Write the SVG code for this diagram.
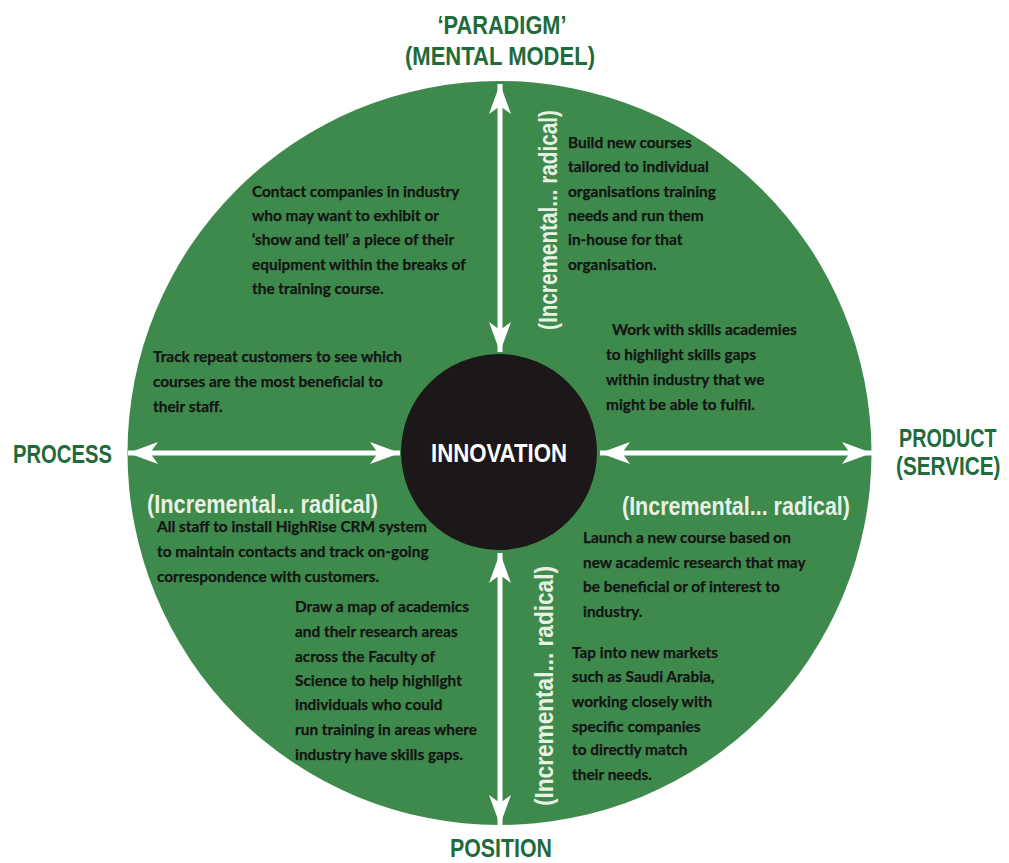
<svg xmlns="http://www.w3.org/2000/svg" width="1009" height="863" viewBox="0 0 1009 863">
<defs>
<style>
.title{font-family:"Liberation Sans",Arial,sans-serif;font-weight:bold;fill:#1f6b3b;font-size:25px}
.body{font-family:Lato,"Open Sans",sans-serif;font-weight:bold;fill:#141414;font-size:15.4px;stroke:#141414;stroke-width:0.25}
.scale{font-family:"Liberation Sans",Arial,sans-serif;font-weight:bold;fill:#e8f1e4;font-size:25px}
.hub{font-family:"Liberation Sans",Arial,sans-serif;font-weight:bold;fill:#ffffff;font-size:25px}
.arrow{stroke:#ffffff;stroke-width:5;fill:none}
</style>
<marker id="head" markerUnits="userSpaceOnUse" markerWidth="32" markerHeight="24" refX="30" refY="11" orient="auto-start-reverse" viewBox="0 0 32 22">
<path d="M0,0 L30,11 L0,22 L8,11 Z" fill="#ffffff"/>
</marker>
</defs>
<rect width="1009" height="863" fill="#ffffff"/>
<g id="wheel">
<circle cx="499.5" cy="453" r="372" fill="#3e8a4c"/>
</g>
<g id="connectors">
<line class="arrow" x1="500" y1="84" x2="500" y2="352" marker-start="url(#head)" marker-end="url(#head)"/>
<line class="arrow" x1="128" y1="453" x2="400" y2="453" marker-start="url(#head)" marker-end="url(#head)"/>
<line class="arrow" x1="600" y1="453" x2="872" y2="453" marker-start="url(#head)" marker-end="url(#head)"/>
<line class="arrow" x1="500" y1="553" x2="500" y2="825" marker-start="url(#head)" marker-end="url(#head)"/>
</g>
<g id="innovation">
<circle cx="499" cy="452" r="98" fill="#1c1819"/>
<text class="hub" x="499" y="462" text-anchor="middle" textLength="136" lengthAdjust="spacingAndGlyphs">INNOVATION</text>
</g>
<g id="paradigm">
<text class="title" x="502" y="34" text-anchor="middle" textLength="129" lengthAdjust="spacingAndGlyphs">‘PARADIGM’</text>
<text class="title" x="500" y="65" text-anchor="middle" textLength="190" lengthAdjust="spacingAndGlyphs">(MENTAL MODEL)</text>
</g>
<g id="process">
<text class="title" x="13" y="463" textLength="99" lengthAdjust="spacingAndGlyphs">PROCESS</text>
</g>
<g id="product">
<text class="title" transform="translate(899,447) scale(0.79,1)">PRODUCT</text>
<text class="title" transform="translate(896,475) scale(0.83,1)">(SERVICE)</text>
</g>
<g id="position">
<text class="title" x="450" y="857" textLength="102" lengthAdjust="spacingAndGlyphs">POSITION</text>
</g>
<g id="scale-top">
<text class="scale" transform="translate(557,330) rotate(-90)" textLength="220" lengthAdjust="spacingAndGlyphs">(Incremental... radical)</text>
</g>
<g id="scale-left">
<text class="scale" x="147" y="513" textLength="231" lengthAdjust="spacingAndGlyphs">(Incremental... radical)</text>
</g>
<g id="scale-right">
<text class="scale" x="622" y="515" textLength="228" lengthAdjust="spacingAndGlyphs">(Incremental... radical)</text>
</g>
<g id="scale-bottom">
<text class="scale" transform="translate(553,806) rotate(-90)" textLength="240" lengthAdjust="spacingAndGlyphs">(Incremental... radical)</text>
</g>
<g id="note-exhibit" class="body">
<text x="252" y="197">Contact companies in industry</text>
<text x="252" y="221">who may want to exhibit  or</text>
<text x="252" y="245">‘show and tell’ a piece of their</text>
<text x="252" y="270">equipment within the breaks of</text>
<text x="252" y="294">the training course.</text>
</g>
<g id="note-build" class="body">
<text x="568" y="148">Build new courses</text>
<text x="568" y="172">tailored to individual</text>
<text x="568" y="197">organisations training</text>
<text x="568" y="221">needs and run them</text>
<text x="568" y="245">in-house for that</text>
<text x="568" y="270">organisation.</text>
</g>
<g id="note-track" class="body">
<text x="153" y="362">Track repeat customers to see which</text>
<text x="153" y="387">courses are the most beneficial to</text>
<text x="153" y="412">their staff.</text>
</g>
<g id="note-academies" class="body">
<text x="612" y="335">Work with skills academies</text>
<text x="606" y="360">to highlight skills gaps</text>
<text x="606" y="385">within industry that we</text>
<text x="606" y="410">might be able to fulfil.</text>
</g>
<g id="note-crm" class="body">
<text x="157" y="532">All staff to install HighRise CRM system</text>
<text x="157" y="557">to  maintain contacts and track on-going</text>
<text x="157" y="582">correspondence with customers.</text>
</g>
<g id="note-launch" class="body">
<text x="583" y="543">Launch a new course based on</text>
<text x="583" y="568">new academic research  that may</text>
<text x="583" y="592">be beneficial or of interest to</text>
<text x="583" y="617">industry.</text>
</g>
<g id="note-map" class="body">
<text x="295" y="612">Draw a map of academics</text>
<text x="295" y="637">and their research areas</text>
<text x="295" y="662">across the Faculty of</text>
<text x="295" y="686">Science to help highlight</text>
<text x="295" y="710">individuals who could</text>
<text x="295" y="735">run training in areas where</text>
<text x="295" y="760">industry  have skills gaps.</text>
</g>
<g id="note-markets" class="body">
<text x="572" y="658">Tap into new markets</text>
<text x="572" y="682">such as Saudi Arabia,</text>
<text x="572" y="707">working closely with</text>
<text x="572" y="732">specific companies</text>
<text x="572" y="755">to directly match</text>
<text x="572" y="780">their needs.</text>
</g>
</svg>
